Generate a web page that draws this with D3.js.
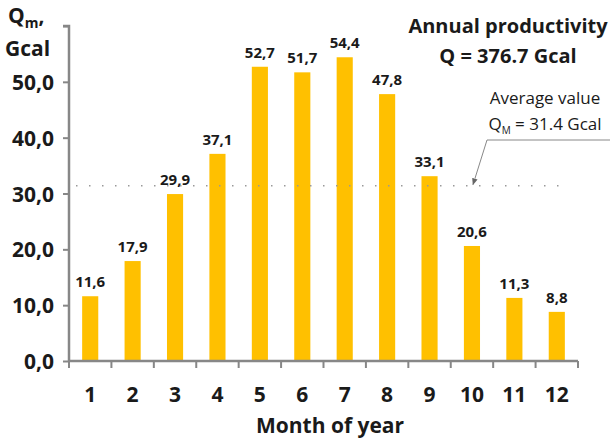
<!DOCTYPE html>
<html>
<head>
<meta charset="utf-8">
<script src="https://cdn.jsdelivr.net/npm/d3@7"></script>
<style>
  body { margin: 0; background: #fff; }
  text { font-family: "Open Sans", sans-serif; fill: #1a1a1a; }
</style>
</head>
<body>
<div id="chart"></div>
<script>
var months = [1, 2, 3, 4, 5, 6, 7, 8, 9, 10, 11, 12];
var values = [11.6, 17.9, 29.9, 37.1, 52.7, 51.7, 54.4, 47.8, 33.1, 20.6, 11.3, 8.8];
var yTicks = [0, 10, 20, 30, 40, 50];
var average = 31.4;

var width = 614, height = 441,
    plotLeft = 69, plotRight = 578, plotTop = 26, plotBottom = 361;

var svg = d3.select("#chart").append("svg")
    .attr("width", width)
    .attr("height", height);

var x = d3.scaleBand().domain(months).range([plotLeft, plotRight]).paddingInner(0.62).paddingOuter(0.31);
var y = d3.scaleLinear().domain([0, 60]).range([plotBottom, plotTop]);
var fmt = function(v) { return v.toFixed(1).replace(".", ","); };

// bars
svg.selectAll("rect.bar")
    .data(values)
  .enter().append("rect")
    .attr("class", "bar")
    .attr("x", function(d, i) { return x(months[i]); })
    .attr("y", function(d) { return y(d); })
    .attr("width", x.bandwidth())
    .attr("height", function(d) { return plotBottom - y(d); })
    .attr("fill", "#ffc000");

// value labels
svg.selectAll("text.val")
    .data(values)
  .enter().append("text")
    .attr("class", "val")
    .attr("x", function(d, i) { return x(months[i]) + x.bandwidth() / 2; })
    .attr("y", function(d) { return y(d) - 9; })
    .attr("text-anchor", "middle")
    .style("font-size", "15px")
    .style("font-weight", "bold")
    .text(fmt);

// average dotted line
svg.append("line")
    .attr("x1", 76).attr("x2", 562)
    .attr("y1", y(average)).attr("y2", y(average))
    .attr("stroke", "#999")
    .attr("stroke-width", 1.5)
    .attr("stroke-dasharray", "1.5,11.5");

// y axis
var yAxis = svg.append("g")
    .attr("transform", "translate(" + plotLeft + ",0)")
    .call(d3.axisLeft(y).tickValues(yTicks.concat([60])).tickSize(6).tickFormat(function(d) { return d === 60 ? "" : fmt(d); }));
yAxis.select(".domain").attr("stroke", "#878787").attr("stroke-width", 2.5)
    .attr("d", "M-6," + plotTop + "H0V" + plotBottom);
yAxis.selectAll(".tick line").attr("stroke", "#878787").attr("stroke-width", 2);
yAxis.selectAll(".tick text")
    .attr("x", -15).attr("dy", "0.36em")
    .style("font-size", "21px").style("font-weight", "bold")
    .style("font-family", "'Open Sans', sans-serif").attr("fill", "#1a1a1a");

// x axis
var xLin = d3.scaleLinear().domain([0, 12]).range([plotLeft, plotRight]);
var xAxis = svg.append("g")
    .attr("transform", "translate(0," + plotBottom + ")");
xAxis.append("path")
    .attr("d", "M" + plotLeft + ",0H" + plotRight)
    .attr("stroke", "#878787").attr("stroke-width", 2.5);
xAxis.selectAll("line.tk")
    .data(d3.range(13))
  .enter().append("line")
    .attr("class", "tk")
    .attr("x1", function(d) { return xLin(d); })
    .attr("x2", function(d) { return xLin(d); })
    .attr("y1", 0).attr("y2", 7)
    .attr("stroke", "#878787").attr("stroke-width", 2);
xAxis.selectAll("text.mo")
    .data(months)
  .enter().append("text")
    .attr("class", "mo")
    .attr("x", function(d) { return x(d) + x.bandwidth() / 2; })
    .attr("y", 41)
    .attr("text-anchor", "middle")
    .style("font-size", "21px").style("font-weight", "bold")
    .text(function(d) { return d; });

// axis titles
svg.append("text")
    .attr("x", 330).attr("y", 433)
    .attr("text-anchor", "middle")
    .style("font-size", "21px").style("font-weight", "bold")
    .text("Month of year");

var qm = svg.append("text")
    .attr("x", 8).attr("y", 23)
    .style("font-size", "21px").style("font-weight", "bold");
qm.append("tspan").text("Q");
qm.append("tspan").attr("dy", 5).style("font-size", "14px").text("m");
qm.append("tspan").attr("dy", -5).text(",");
svg.append("text")
    .attr("x", 5).attr("y", 56)
    .style("font-size", "21px").style("font-weight", "bold")
    .text("Gcal");

// annual productivity
svg.append("text")
    .attr("x", 508).attr("y", 33)
    .attr("text-anchor", "middle")
    .style("font-size", "20px").style("font-weight", "bold")
    .text("Annual productivity");
svg.append("text")
    .attr("x", 508).attr("y", 63)
    .attr("text-anchor", "middle")
    .style("font-size", "20px").style("font-weight", "bold")
    .text("Q = 376.7 Gcal");

// average annotation
svg.append("text")
    .attr("x", 545).attr("y", 104)
    .attr("text-anchor", "middle")
    .style("font-size", "17px")
    .text("Average value");
var av = svg.append("text")
    .attr("x", 545).attr("y", 130)
    .attr("text-anchor", "middle")
    .style("font-size", "17px");
av.append("tspan").text("Q");
av.append("tspan").attr("dy", 4).style("font-size", "10px").text("M");
av.append("tspan").attr("dy", -4).text(" = " + average.toFixed(1) + " Gcal");

svg.append("defs").append("marker")
    .attr("id", "arr")
    .attr("viewBox", "0 0 10 10")
    .attr("refX", 9).attr("refY", 5)
    .attr("markerWidth", 7).attr("markerHeight", 7)
    .attr("orient", "auto")
  .append("path")
    .attr("d", "M0,1L10,5L0,9Z")
    .attr("fill", "#666");

svg.append("path")
    .attr("d", "M610,140H487L473," + (y(average) - 1))
    .attr("fill", "none")
    .attr("stroke", "#888")
    .attr("stroke-width", 1)
    .attr("marker-end", "url(#arr)");
</script>
</body>
</html>
